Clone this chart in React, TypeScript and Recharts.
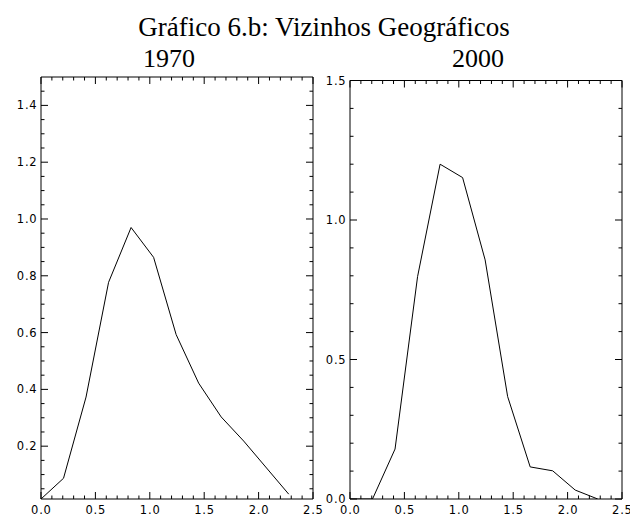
import React from "react";
import { Line, LineChart, XAxis, YAxis } from "recharts";

// Distribution curves per period (x = relative value, y = density)
const x1970 = [0, 0.207, 0.414, 0.621, 0.828, 1.035, 1.242, 1.449, 1.656, 1.863, 2.277];
const y1970 = [0.014, 0.087, 0.373, 0.777, 0.97, 0.865, 0.593, 0.422, 0.303, 0.218, 0.031];

const x2000 = [0, 0.207, 0.414, 0.621, 0.828, 1.035, 1.242, 1.449, 1.656, 1.863, 2.07, 2.277];
const y2000 = [0, 0, 0.179, 0.797, 1.2, 1.152, 0.857, 0.367, 0.115, 0.101, 0.032, 0];

const xMajor = [0, 0.5, 1, 1.5, 2, 2.5];
const yMajor1970 = [0.2, 0.4, 0.6, 0.8, 1.0, 1.2, 1.4];
const yMajor2000 = [0, 0.5, 1.0, 1.5];

const TITLE = "Gráfico 6.b: Vizinhos Geográficos";
const PANEL_TITLES = ["1970", "2000"];

const steps = (from: number, to: number, step: number) => {
  const out: number[] = [];
  for (let v = from; v <= to + 1e-9; v += step) out.push(Math.round(v * 1000) / 1000);
  return out;
};

const xAll = steps(0, 2.5, 0.1);
const yAll1970 = steps(0.05, 1.45, 0.05);
const yAll2000 = steps(0, 1.5, 0.1);

const toRows = (xs: number[], ys: number[]) => xs.map((x, i) => ({ x, y: ys[i] }));

type Side = "bottom" | "left" | "top" | "right";

function AxisTick(props: any) {
  const { x, y, payload, side, major, labels } = props as {
    x: number;
    y: number;
    payload: { value: number };
    side: Side;
    major: number[];
    labels: boolean;
  };
  const v = payload.value;
  const isMajor = major.some((m) => Math.abs(m - v) < 1e-6);
  const len = isMajor ? 7 : 3.5;
  const txt = { fontFamily: "DejaVu Sans", fontSize: 11.5, letterSpacing: 0.8, fill: "#000" };
  if (side === "bottom") {
    return (
      <g>
        <line x1={x} y1={y} x2={x} y2={y - len} stroke="#000" />
        {labels && isMajor && (
          <text x={x + 0.4} y={y + 15} textAnchor="middle" {...txt}>
            {v.toFixed(1)}
          </text>
        )}
      </g>
    );
  }
  if (side === "top") return <line x1={x} y1={y} x2={x} y2={y + len} stroke="#000" />;
  if (side === "right") return <line x1={x} y1={y} x2={x - len} y2={y} stroke="#000" />;
  return (
    <g>
      <line x1={x} y1={y} x2={x + len} y2={y} stroke="#000" />
      {labels && isMajor && (
        <text x={x - 3.5} y={y + 4} textAnchor="end" {...txt}>
          {v.toFixed(1)}
        </text>
      )}
    </g>
  );
}

function Panel(props: {
  rows: { x: number; y: number }[];
  yDomain: [number, number];
  yAll: number[];
  yMajor: number[];
  width: number;
  margin: { top: number; right: number; bottom: number; left: number };
}) {
  const { rows, yDomain, yAll, yMajor, width, margin } = props;
  const common = { tickSize: 0, tickMargin: 0, tickLine: false, allowDataOverflow: true, interval: 0 as const };
  const axisLine = { stroke: "#000", strokeWidth: 1 };
  return (
    <LineChart width={width} height={517} data={rows} margin={margin}>
      <XAxis
        dataKey="x"
        type="number"
        domain={[0, 2.5]}
        ticks={xAll}
        height={1}
        axisLine={axisLine}
        tick={(p: any) => <AxisTick {...p} side="bottom" major={xMajor} labels />}
        {...common}
      />
      <XAxis
        xAxisId="top"
        orientation="top"
        dataKey="x"
        type="number"
        domain={[0, 2.5]}
        ticks={xAll}
        height={1}
        axisLine={axisLine}
        tick={(p: any) => <AxisTick {...p} side="top" major={xMajor} />}
        {...common}
      />
      <YAxis
        type="number"
        domain={yDomain}
        ticks={yAll}
        width={1}
        axisLine={axisLine}
        tick={(p: any) => <AxisTick {...p} side="left" major={yMajor} labels />}
        {...common}
      />
      <YAxis
        yAxisId="right"
        orientation="right"
        type="number"
        domain={yDomain}
        ticks={yAll}
        width={1}
        axisLine={axisLine}
        tick={(p: any) => <AxisTick {...p} side="right" major={yMajor} />}
        {...common}
      />
      <Line type="linear" dataKey="y" stroke="#000" strokeWidth={1} dot={false} isAnimationActive={false} />
    </LineChart>
  );
}

export default function App() {
  const serif = { fontFamily: "Liberation Serif, 'Times New Roman', serif", fill: "#000" };
  return (
    <div style={{ position: "absolute", left: 0, top: 0, width: 630, height: 517, background: "#fff", overflow: "hidden" }}>
      <div style={{ position: "absolute", left: 0, top: 0 }}>
        <Panel
          rows={toRows(x1970, y1970)}
          yDomain={[0.014, 1.5]}
          yAll={yAll1970}
          yMajor={yMajor1970}
          width={330}
          margin={{ top: 76, right: 16, bottom: 17, left: 40 }}
        />
      </div>
      <div style={{ position: "absolute", left: 315, top: 0 }}>
        <Panel
          rows={toRows(x2000, y2000)}
          yDomain={[0, 1.5]}
          yAll={yAll2000}
          yMajor={yMajor2000}
          width={315}
          margin={{ top: 79.5, right: 7, bottom: 17, left: 34 }}
        />
      </div>
      <svg width={630} height={80} style={{ position: "absolute", left: 0, top: 0, pointerEvents: "none" }}>
        <text x={324} y={35.5} textAnchor="middle" fontSize={27} {...serif}>
          {TITLE}
        </text>
        <text x={169} y={66.5} textAnchor="middle" fontSize={26} {...serif}>
          {PANEL_TITLES[0]}
        </text>
        <text x={478} y={66.5} textAnchor="middle" fontSize={26} {...serif}>
          {PANEL_TITLES[1]}
        </text>
      </svg>
    </div>
  );
}
